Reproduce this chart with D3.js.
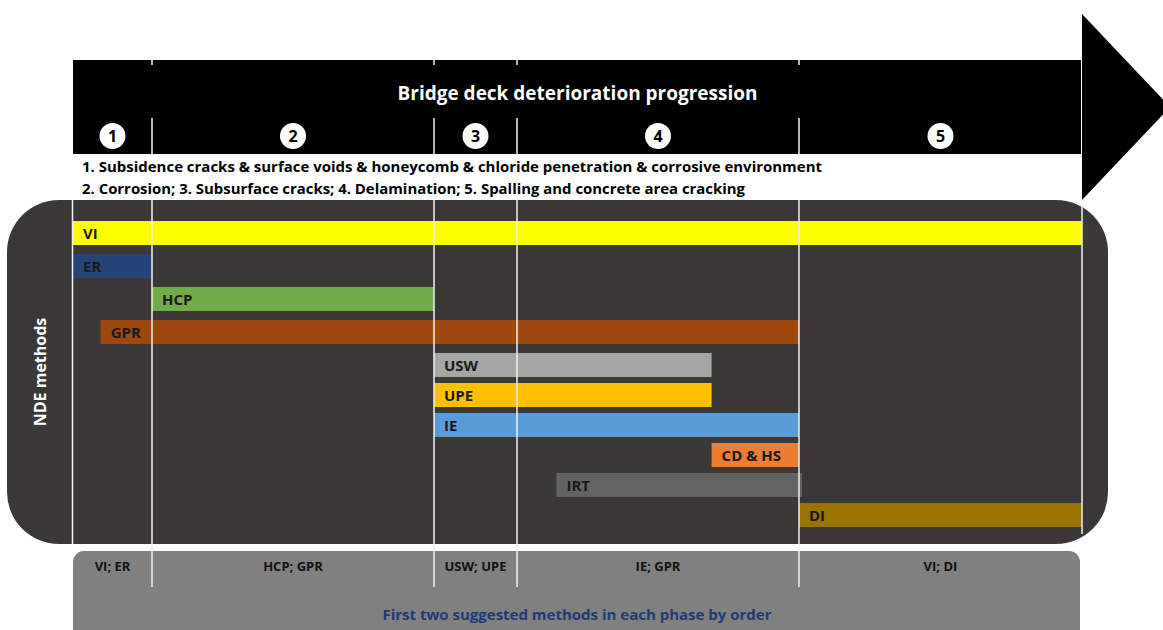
<!DOCTYPE html>
<html>
<head>
<meta charset="utf-8" />
<title>Bridge deck deterioration progression</title>
<script src="https://d3js.org/d3.v7.min.js"></script>
<style>
  body { margin: 0; background: #fff; }
  svg { display: block; font-family: "Open Sans", "DejaVu Sans", sans-serif; font-weight: bold; }
</style>
</head>
<body>
<div id="chart"></div>
<script>
// phases and their borders (in phase units 0..5)
var phases = ["1", "2", "3", "4", "5"];
var phaseBorders = [0, 1, 2, 3, 4, 5];
var phaseText = [
  "1. Subsidence cracks & surface voids & honeycomb & chloride penetration & corrosive environment",
  "2. Corrosion;  3. Subsurface cracks; 4. Delamination; 5. Spalling and concrete area cracking"
];
var suggested = ["VI; ER", "HCP; GPR", "USW; UPE", "IE; GPR", "VI; DI"];

// NDE methods, where they start and end along the phases
var methods = ["VI", "ER", "HCP", "GPR", "USW", "UPE", "IE", "CD & HS", "IRT", "DI"];
var methodStart = [0, 0, 1, 0.35, 2, 2, 2, 3.69, 3.14, 4];
var methodEnd = [5, 1, 2, 4, 3.69, 3.69, 4, 4, 4.01, 5];
var methodColors = ["#ffff00", "#254478", "#70ad47", "#9e480e", "#a5a5a5",
                    "#ffc000", "#5b9bd5", "#ed7d31", "#636363", "#997300"];

var width = 1163, height = 630;
var svg = d3.select("#chart").append("svg")
  .attr("width", width).attr("height", height);

var x = d3.scaleLinear().domain(phaseBorders).range([73, 152, 434, 517, 799, 1082]);
var y = d3.scaleLinear().domain([0, 4, 9]).range([221, 353, 503]);
var barH = 24;

/* header arrow */
svg.append("rect").attr("x", x(0)).attr("y", 60)
  .attr("width", x(5) - x(0) - 1).attr("height", 94).attr("fill", "#000");
svg.append("path")
  .attr("d", "M1082,14 L1170,107 L1082,200 Z").attr("fill", "#000");

svg.append("text").text("Bridge deck deterioration progression")
  .attr("x", (x(0) + x(5)) / 2).attr("y", 100)
  .attr("text-anchor", "middle").attr("fill", "#fff")
  .attr("textLength", 360).attr("lengthAdjust", "spacingAndGlyphs")
  .style("font-size", "20px");

var circ = svg.append("g").selectAll("g").data(phases).enter().append("g")
  .attr("transform", function (d, i) { return "translate(" + (x(i) + x(i + 1)) / 2 + ",136)"; });
circ.append("circle").attr("r", 13).attr("fill", "#fff");
circ.append("text").text(function (d) { return d; })
  .attr("text-anchor", "middle").attr("y", 6)
  .style("font-size", "16px").attr("fill", "#000");

svg.append("text").text(phaseText[0])
  .attr("x", 82).attr("y", 172)
  .attr("textLength", 740).attr("lengthAdjust", "spacingAndGlyphs")
  .style("font-size", "14px");
svg.append("text").text(phaseText[1])
  .attr("x", 82).attr("y", 194)
  .attr("textLength", 663).attr("lengthAdjust", "spacingAndGlyphs")
  .style("font-size", "14px");

/* dark panel */
svg.append("rect").attr("x", 7).attr("y", 200)
  .attr("width", 1101).attr("height", 344)
  .attr("rx", 52).attr("ry", 52).attr("fill", "#3a3938");

svg.append("text").text("NDE methods")
  .attr("transform", "translate(46,372) rotate(-90)")
  .attr("text-anchor", "middle").attr("fill", "#fff")
  .style("font-size", "16px");

var bars = svg.append("g").selectAll("g").data(methods).enter().append("g");
bars.append("rect")
  .attr("x", function (d, i) { return x(methodStart[i]); })
  .attr("y", function (d, i) { return y(i); })
  .attr("width", function (d, i) { return x(methodEnd[i]) - x(methodStart[i]); })
  .attr("height", barH)
  .attr("fill", function (d, i) { return methodColors[i]; });
bars.append("text").text(function (d) { return d; })
  .attr("x", function (d, i) { return x(methodStart[i]) + 10; })
  .attr("y", function (d, i) { return y(i) + 17.5; })
  .attr("fill", "#1a1a1a")
  .style("font-size", "15px");

/* bottom panel */
svg.append("rect").attr("x", 73).attr("y", 551)
  .attr("width", 1007).attr("height", 100)
  .attr("rx", 11).attr("ry", 11).attr("fill", "#808080");

svg.append("g").selectAll("text").data(suggested).enter().append("text")
  .text(function (d) { return d; })
  .attr("x", function (d, i) { return (x(i) + x(i + 1)) / 2; })
  .attr("y", 571)
  .attr("text-anchor", "middle").attr("fill", "#111")
  .style("font-size", "13px");

svg.append("text").text("First two suggested methods in each phase by order")
  .attr("x", 577).attr("y", 620)
  .attr("text-anchor", "middle").attr("fill", "#1f3a78")
  .style("font-size", "15px");

/* phase divider lines */
var segs = [[60, 65], [118, 154], [200, 587]];
var lines = svg.append("g").attr("stroke", "#f2f2f2").attr("stroke-width", 1.5);
phaseBorders.slice(1, 5).forEach(function (b) {
  segs.forEach(function (s) {
    lines.append("line").attr("x1", x(b)).attr("x2", x(b))
      .attr("y1", s[0]).attr("y2", s[1]);
  });
});
lines.append("line").attr("x1", x(0) - 0.5).attr("x2", x(0) - 0.5).attr("y1", 200).attr("y2", 544);
lines.append("line").attr("x1", x(5)).attr("x2", x(5)).attr("y1", 200).attr("y2", 534);
</script>
</body>
</html>
